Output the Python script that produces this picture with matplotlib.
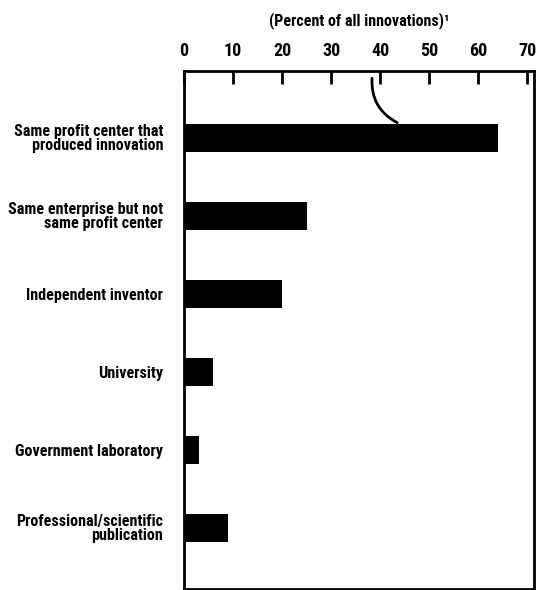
import matplotlib.pyplot as plt

# sources of innovation, percent of all innovations
sources = ['Same profit center that\nproduced innovation',
           'Same enterprise but not\nsame profit center',
           'Independent inventor',
           'University',
           'Government laboratory',
           'Professional/scientific\npublication']
percents = [64, 25, 20, 6, 3, 9]
ticks = [0, 10, 20, 30, 40, 50, 60, 70]

plt.rcParams['font.family'] = ['Roboto Condensed', 'DejaVu Sans']
plt.rcParams['font.weight'] = 'bold'

fig = plt.figure(figsize=(5.42, 5.90), dpi=100)
ax = fig.add_axes([184/542, 0.002, (534-184)/542, (589-71)/590])

ax.barh(range(len(sources)), percents, height=0.35, color='black')
ax.set_xlim(0, 71.4)
ax.set_ylim(5.78, -0.86)

ax.xaxis.tick_top()
ax.xaxis.set_label_position('top')
ax.set_xticks(ticks)
ax.set_xticklabels([str(t) for t in ticks], fontsize=13, fontweight='bold')
ax.tick_params(axis='x', direction='in', length=9, width=2, pad=8)
ax.set_xlabel('(Percent of all innovations)\u00b9', fontsize=11.5, fontweight='bold', labelpad=12)

ax.set_yticks(range(len(sources)))
ax.set_yticklabels(sources, fontsize=11.6, fontweight='bold', linespacing=0.9)
ax.tick_params(axis='y', length=0, pad=15)

for s in ax.spines.values():
    s.set_linewidth(2)

# callout line drawn in the original
ax.annotate('', xy=(44, -0.18), xytext=(38.4, -0.8),
            arrowprops=dict(arrowstyle='-', lw=2, color='black',
                            connectionstyle='arc3,rad=0.35'))

fig.savefig('out.png', dpi=100)
